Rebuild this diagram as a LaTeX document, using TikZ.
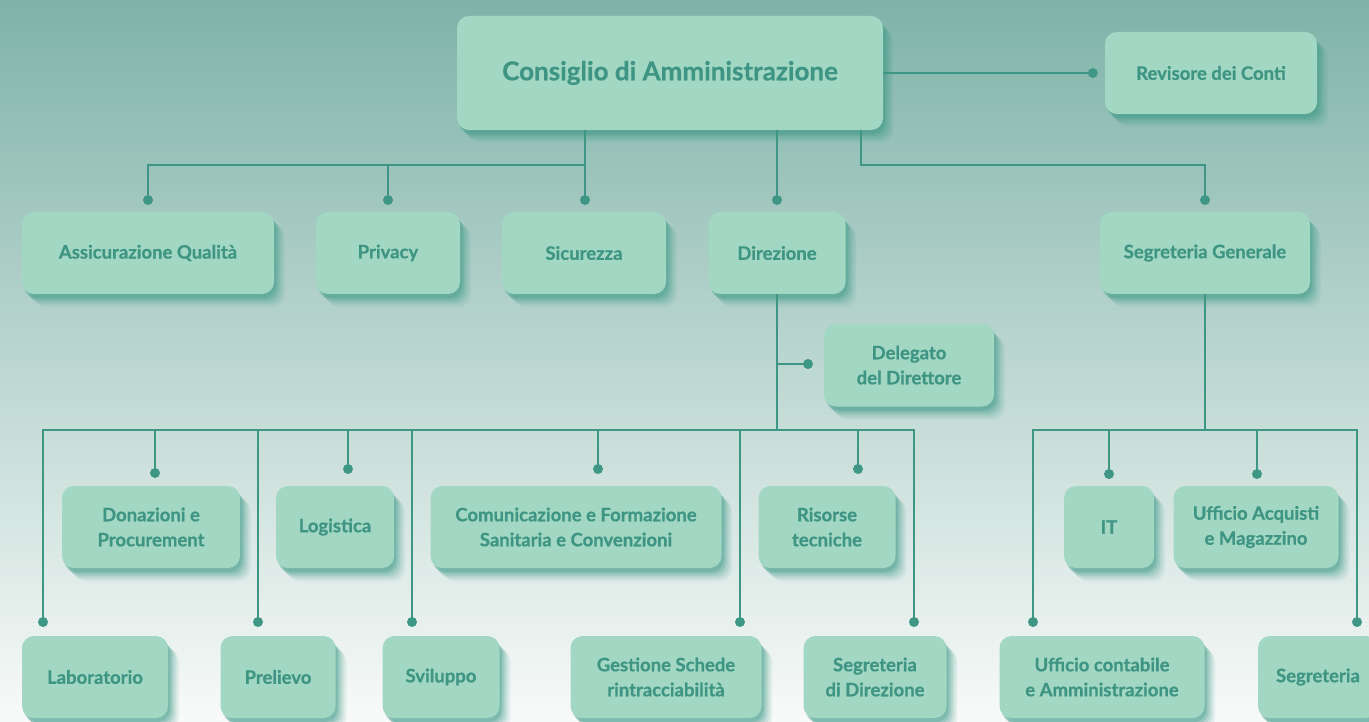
\documentclass[tikz,border=0pt]{standalone}
\usepackage{fontspec}
\setmainfont{Lato}[BoldFeatures={FakeBold=0.7}]
\usetikzlibrary{shadows,calc}
\definecolor{bgtop}{HTML}{7FB3A8}
\definecolor{bgmid}{HTML}{C6DCD6}
\definecolor{bgbot}{HTML}{F8FAF9}
\definecolor{boxc}{HTML}{A2D8C3}
\definecolor{txtc}{HTML}{3F9583}
\definecolor{linec}{HTML}{3E9684}
\definecolor{shc}{HTML}{3E9A88}
\begin{document}
\begin{tikzpicture}[x=1pt,y=-1pt,
  softshadow/.style={
    general shadow={shadow xshift=12pt, shadow yshift=-14pt, shadow scale=0.99, fill=shc, opacity=0.05},
    general shadow={shadow xshift=10pt, shadow yshift=-12pt, fill=shc, opacity=0.08},
    general shadow={shadow xshift=8pt, shadow yshift=-10pt, fill=shc, opacity=0.12},
    general shadow={shadow xshift=6pt, shadow yshift=-8pt, fill=shc, opacity=0.16},
    general shadow={shadow xshift=4pt, shadow yshift=-6pt, fill=shc, opacity=0.22},
    general shadow={shadow xshift=2pt, shadow yshift=-4pt, fill=shc, opacity=0.30}},
  box/.style={rounded corners=12pt, fill=boxc, text=txtc, align=center, inner sep=0pt,
    font=\bfseries\fontsize{18.5}{25}\selectfont, softshadow},
  title/.style={font=\bfseries\fontsize{26}{30}\selectfont},
  line/.style={draw=linec, line width=2.8pt},
  dot/.style={circle, fill=linec, inner sep=0pt, minimum size=10pt}]
\clip (0,0) rectangle (1369,722);
\shade[top color=bgtop, middle color=bgmid, bottom color=bgbot] (0,0) rectangle (1369,722);

% ---- nodes ----
\node[box,title,minimum width=426pt,minimum height=114pt] (cda) at (670,73) {Consiglio di Amministrazione};
\node[box,minimum width=212pt,minimum height=82pt] (rev) at (1211,73) {Revisore dei Conti};

\node[box,minimum width=252pt,minimum height=82pt] (aq) at (148,253) {Assicurazione Qualità};
\node[box,minimum width=144pt,minimum height=82pt] (priv) at (388,253) {Privacy};
\node[box,minimum width=164pt,minimum height=82pt] (sic) at (584,253) {Sicurezza};
\node[box,minimum width=137pt,minimum height=82pt] (dir) at (777,253) {Direzione};
\node[box,minimum width=210pt,minimum height=82pt] (sg) at (1205,253) {Segreteria Generale};

\node[box,minimum width=170pt,minimum height=83pt] (del) at (909,365) {Delegato\\del Direttore};

\node[box,minimum width=178pt,minimum height=82pt] (don) at (151,527) {Donazioni e\\Procurement};
\node[box,minimum width=118pt,minimum height=82pt] (log) at (335,527) {Logistica};
\node[box,minimum width=291pt,minimum height=82pt] (com) at (576,527) {Comunicazione e Formazione\\Sanitaria e Convenzioni};
\node[box,minimum width=137pt,minimum height=82pt] (ris) at (827,527) {Risorse\\tecniche};
\node[box,minimum width=90pt,minimum height=82pt] (it) at (1109,527) {IT};
\node[box,minimum width=165pt,minimum height=82pt] (acq) at (1256,527) {Ufficio Acquisti\\e Magazzino};

\node[box,minimum width=146pt,minimum height=82pt] (lab) at (95,677) {Laboratorio};
\node[box,minimum width=115pt,minimum height=82pt] (prel) at (278,677) {Prelievo};
\node[box,minimum width=117pt,minimum height=82pt] (svil) at (441,677) {Sviluppo};
\node[box,minimum width=191pt,minimum height=82pt] (ges) at (666,677) {Gestione Schede\\rintracciabilità};
\node[box,minimum width=143pt,minimum height=82pt] (sdir) at (875,677) {Segreteria\\di Direzione};
\node[box,minimum width=205pt,minimum height=82pt] (uca) at (1102,677) {Ufficio contabile\\e Amministrazione};
\node[box,minimum width=120pt,minimum height=82pt] (seg) at (1318,677) {Segreteria};

% ---- junctions and dots ----
\coordinate (jL) at (585,165);
\coordinate (jR) at (861,165);
\coordinate (jD) at (777,430);
\coordinate (jS) at (1205,430);
\coordinate (dRev) at ($(rev.west)+(-12,0)$);
\coordinate (dAq) at (148,200);
\coordinate (dPriv) at (388,200);
\coordinate (dSic) at (585,200);
\coordinate (dDir) at (777,200);
\coordinate (dSg) at (1205,200);
\coordinate (dDel) at (808,364);
\coordinate (dDon) at (155,473);
\coordinate (dLog) at (348,469);
\coordinate (dCom) at (598,469);
\coordinate (dRis) at (858,469);
\coordinate (dIt) at (1109,474);
\coordinate (dAcq) at (1257,474);
\coordinate (dLab) at (43,622);
\coordinate (dPrel) at (258,622);
\coordinate (dSvil) at (412,622);
\coordinate (dGes) at (740,622);
\coordinate (dSdir) at (914,622);
\coordinate (dUca) at (1033,622);
\coordinate (dSeg) at (1357,622);

% ---- connectors ----
\draw[line] (cda.east |- dRev) -- (dRev) node[dot]{};
\draw[line] (cda.south -| jL) -- (dSic) node[dot]{};
\draw[line] (jL) -| (dAq) node[dot]{};
\draw[line] (dPriv |- jL) -- (dPriv) node[dot]{};
\draw[line] (cda.south -| dDir) -- (dDir) node[dot]{};
\draw[line] (cda.south -| jR) -- (jR) -| (dSg) node[dot]{};

\draw[line] (dir.south) -- (jD);
\draw[line] (dir.south |- dDel) -- (dDel) node[dot]{};
\draw[line] (dLab) |- (jD) -| (dSdir);
\draw (dLab) node[dot]{};
\draw (dSdir) node[dot]{};
\draw[line] (dDon |- jD) -- (dDon) node[dot]{};
\draw[line] (dPrel |- jD) -- (dPrel) node[dot]{};
\draw[line] (dLog |- jD) -- (dLog) node[dot]{};
\draw[line] (dSvil |- jD) -- (dSvil) node[dot]{};
\draw[line] (dCom |- jD) -- (dCom) node[dot]{};
\draw[line] (dGes |- jD) -- (dGes) node[dot]{};
\draw[line] (dRis |- jD) -- (dRis) node[dot]{};

\draw[line] (sg.south) -- (jS);
\draw[line] (dUca) |- (jS) -| (dSeg);
\draw (dUca) node[dot]{};
\draw (dSeg) node[dot]{};
\draw[line] (dIt |- jS) -- (dIt) node[dot]{};
\draw[line] (dAcq |- jS) -- (dAcq) node[dot]{};
\end{tikzpicture}
\end{document}
